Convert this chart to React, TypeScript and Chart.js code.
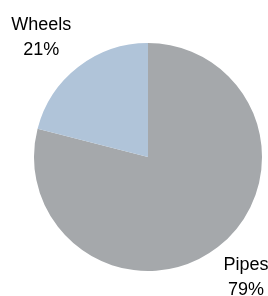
import React, { useEffect, useRef } from "react";
import { Chart, registerables } from "chart.js";

Chart.register(...registerables);

const categories = ["Pipes", "Wheels"];
const values = [79, 21];
const valueLabels = ["79%", "21%"];
const colors = ["#A5A8AB", "#B0C4D9"];

// label placement relative to each slice: angle shift (deg) and distance factor of radius
const labelPlacement = [
  { shift: -0.1, dist: 1.4 },
  { shift: -5.1, dist: 1.375 },
];

const labelPlugin = {
  id: "outerLabels",
  afterDraw(chart: any) {
    const ctx = chart.ctx;
    const meta = chart.getDatasetMeta(0);
    ctx.save();
    ctx.font = "18px 'Liberation Sans', Arial, sans-serif";
    ctx.fillStyle = "#000000";
    ctx.textAlign = "center";
    ctx.textBaseline = "alphabetic";
    meta.data.forEach((arc: any, i: number) => {
      const p = arc.getProps(["x", "y", "startAngle", "endAngle", "outerRadius"], true);
      const place = labelPlacement[i];
      const mid = (p.startAngle + p.endAngle) / 2 + (place.shift * Math.PI) / 180;
      const d = p.outerRadius * place.dist;
      const x = p.x + Math.cos(mid) * d;
      const y = p.y + Math.sin(mid) * d;
      ctx.fillText(categories[i], x, y - 12.5);
      ctx.fillText(valueLabels[i], x, y + 12.5);
    });
    ctx.restore();
  },
};

export default function App() {
  const ref = useRef<HTMLCanvasElement>(null);
  useEffect(() => {
    if (!ref.current) return;
    const chart = new Chart(ref.current, {
      type: "pie",
      data: {
        labels: categories,
        datasets: [
          {
            data: values,
            backgroundColor: colors,
            borderWidth: 0,
          },
        ],
      },
      options: {
        responsive: false,
        animation: false,
        layout: { padding: { left: 34, right: 6, top: 43, bottom: 25 } },
        plugins: {
          legend: { display: false },
          tooltip: { enabled: false },
        },
      },
      plugins: [labelPlugin],
    });
    return () => chart.destroy();
  }, []);
  return (
    <div style={{ position: "absolute", left: 0, top: 0, width: 268, height: 296, background: "#ffffff" }}>
      <canvas ref={ref} width={268} height={296} style={{ display: "block", width: 268, height: 296 }} />
    </div>
  );
}
